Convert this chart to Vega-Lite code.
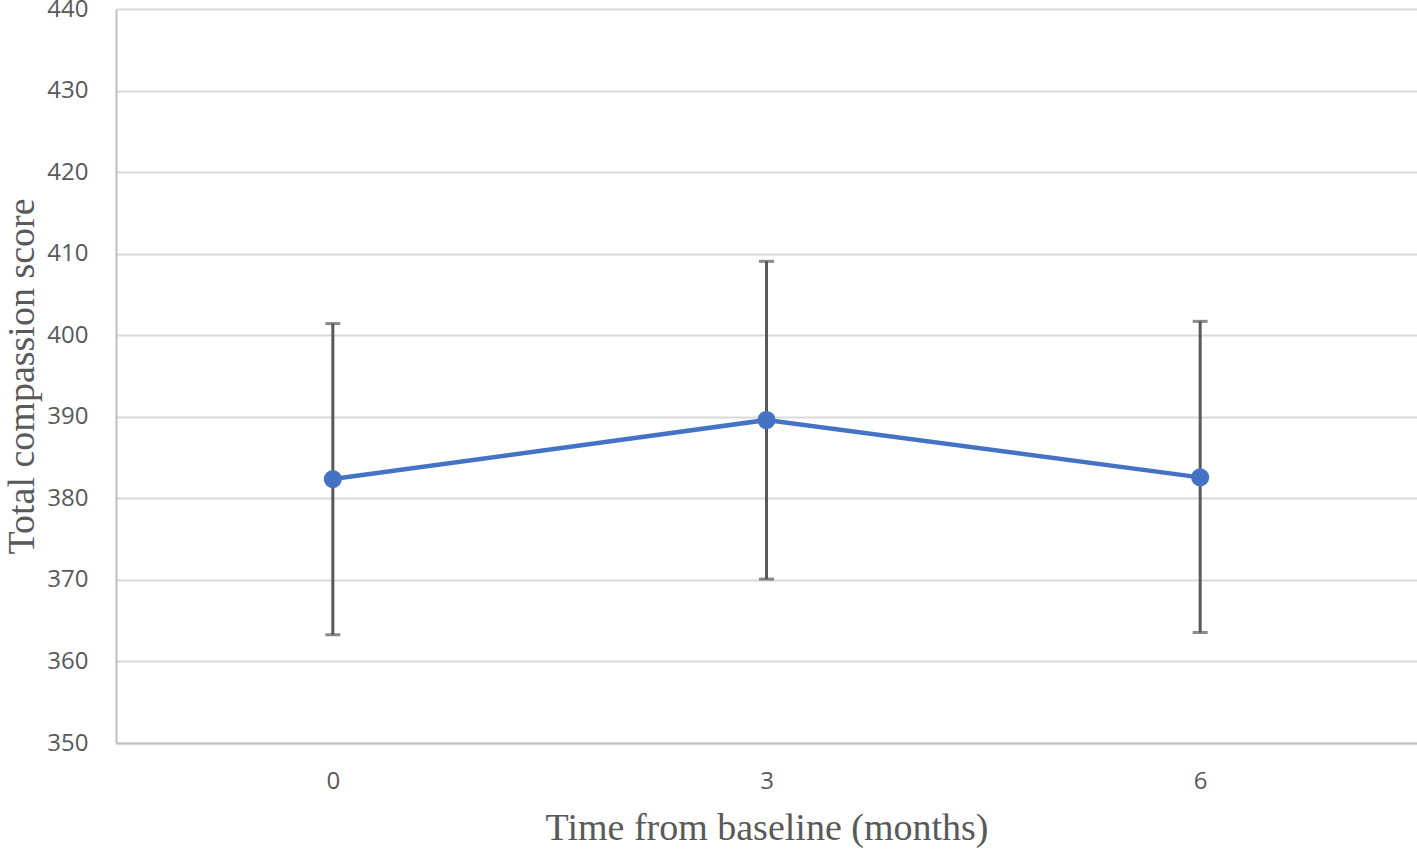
{
  "$schema": "https://vega.github.io/schema/vega-lite/v6.json",
  "autosize": "none",
  "width": 1301,
  "height": 734,
  "padding": {"left": 116, "top": 9, "right": 0, "bottom": 109},
  "background": "white",
  "data": {"values": [
    {"time": "0", "mean": 382.36, "low": 363.27, "high": 401.43},
    {"time": "3", "mean": 389.6, "low": 370.1, "high": 409.06},
    {"time": "6", "mean": 382.57, "low": 363.55, "high": 401.7}
  ]},
  "encoding": {
    "x": {"field": "time", "type": "ordinal", "sort": null,
      "scale": {"type": "point", "padding": 0.5},
      "axis": {"title": "Time from baseline (months)", "labelAngle": 0, "ticks": false, "grid": false,
        "domainColor": "#bfbfbf", "domainWidth": 2,
        "labelFont": "Open Sans", "labelFontSize": 24, "labelColor": "#595959", "labelPadding": 26,
        "titleFont": "Liberation Serif", "titleFontSize": 38, "titleFontWeight": "normal", "titleColor": "#595959", "titlePadding": 16}}
  },
  "layer": [
    {"mark": {"type": "rule", "color": "#595959", "strokeWidth": 3},
     "encoding": {"y": {"field": "low", "type": "quantitative"}, "y2": {"field": "high"}}},
    {"mark": {"type": "tick", "color": "#595959", "thickness": 3, "size": 15, "orient": "horizontal"},
     "encoding": {"y": {"field": "low", "type": "quantitative"}}},
    {"mark": {"type": "tick", "color": "#595959", "thickness": 3, "size": 15, "orient": "horizontal"},
     "encoding": {"y": {"field": "high", "type": "quantitative"}}},
    {"mark": {"type": "line", "color": "#4472C4", "strokeWidth": 4.5},
     "encoding": {"y": {"field": "mean", "type": "quantitative"}}},
    {"mark": {"type": "point", "filled": true, "opacity": 1, "color": "#4472C4", "size": 330, "shape": "circle"},
     "encoding": {"y": {"field": "mean", "type": "quantitative",
       "scale": {"domain": [350, 440], "nice": false, "zero": false},
       "axis": {"title": "Total compassion score", "values": [350,360,370,380,390,400,410,420,430,440],
         "ticks": false, "grid": true, "gridColor": "#d9d9d9", "gridWidth": 2,
         "domainColor": "#bfbfbf", "domainWidth": 2,
         "labelFont": "Open Sans", "labelFontSize": 24, "labelColor": "#595959", "labelPadding": 28,
         "titleFont": "Liberation Serif", "titleFontSize": 38, "titleFontWeight": "normal", "titleColor": "#595959", "titlePadding": 5}}}}
  ],
  "resolve": {"scale": {"y": "shared"}},
  "config": {"view": {"stroke": null}}
}
